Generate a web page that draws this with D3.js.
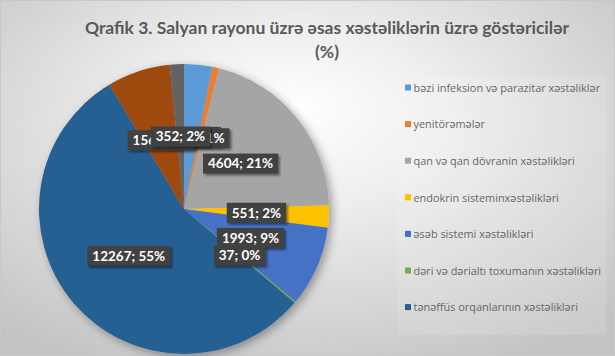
<!DOCTYPE html>
<html>
<head>
<meta charset="utf-8">
<script src="https://cdn.jsdelivr.net/npm/d3@7"></script>
<style>
html,body{margin:0;padding:0;background:#fff;}
svg{display:block;}
</style>
</head>
<body>
<svg id="chart" width="615" height="356"></svg>
<script>
const titleLines = ["Qrafik 3. Salyan rayonu üzrə əsas xəstəliklərin üzrə göstəricilər", "(%)"];
const categories = [
  "bəzi  infeksion  və parazitar xəstəliklər",
  "yenitörəmələr",
  "qan və qan dövranin xəstəlikləri",
  "endokrin sisteminxəstəlikləri",
  "əsəb sistemi xəstəlikləri",
  "dəri və dərialtı toxumanın xəstəlikləri",
  "tənəffüs orqanlarının xəstəlikləri",
  "həzm orqanlarının xəstəlikləri",
  "digər xəstəliklər"
];
const values = [700, 160, 4604, 551, 1993, 37, 12267, 1563, 352];
const colors = ["#5B9BD5","#ED7D31","#A5A5A5","#FFC000","#4472C4","#70AD47","#255E91","#9E480E","#636363"];
const legendShown = 7;

const W = 615, H = 356;
const svg = d3.select("#chart");
const defs = svg.append("defs");

const bg = defs.append("radialGradient").attr("id","bg")
  .attr("cx","48%").attr("cy","38%").attr("r","72%").attr("fx","48%").attr("fy","30%");
bg.append("stop").attr("offset","0%").attr("stop-color","#ffffff");
bg.append("stop").attr("offset","35%").attr("stop-color","#eeeeee");
bg.append("stop").attr("offset","100%").attr("stop-color","#c4c4c4");

const sh = defs.append("filter").attr("id","pieShadow").attr("x","-20%").attr("y","-20%").attr("width","140%").attr("height","140%");
sh.append("feDropShadow").attr("dx",3).attr("dy",3).attr("stdDeviation",5).attr("flood-color","#000").attr("flood-opacity",0.35);
const lsh = defs.append("filter").attr("id","lblShadow").attr("x","-20%").attr("y","-30%").attr("width","150%").attr("height","170%");
lsh.append("feDropShadow").attr("dx",2).attr("dy",2).attr("stdDeviation",1.2).attr("flood-color","#000").attr("flood-opacity",0.45);

const pat = defs.append("pattern").attr("id","dots").attr("width",3).attr("height",3).attr("patternUnits","userSpaceOnUse");
pat.append("rect").attr("width",3).attr("height",3).attr("fill","#404040");
pat.append("rect").attr("x",1).attr("y",1).attr("width",1).attr("height",1).attr("fill","#4a4a4a");

svg.append("rect").attr("width",W).attr("height",H).attr("fill","url(#bg)");
svg.append("rect").attr("x",0.5).attr("y",0.5).attr("width",W-1).attr("height",H-1)
  .attr("fill","none").attr("stroke","#c8c8c8");

// title
const title = svg.append("text").attr("text-anchor","middle")
  .attr("font-family","Lato, 'Open Sans', sans-serif").attr("font-weight","bold")
  .attr("font-size",17.5).attr("fill","#595959");
title.append("tspan").attr("x",327).attr("y",34).text(titleLines[0]);
title.append("tspan").attr("x",327).attr("y",58).text(titleLines[1]);

// pie
const cx = 184, cy = 209, r = 145;
const pie = d3.pie().sort(null).value(d => d)(values);
const arc = d3.arc().innerRadius(0).outerRadius(r);
const labelArc = d3.arc().innerRadius(r*0.5).outerRadius(r*0.5);
const total = d3.sum(values);

const g = svg.append("g").attr("transform",`translate(${cx},${cy})`);
g.append("g").attr("filter","url(#pieShadow)")
  .selectAll("path").data(pie).join("path")
  .attr("d",arc).attr("fill",(d,i)=>colors[i]);

// labels
const lg = g.append("g");
pie.forEach((d,i) => {
  const [lx,ly] = labelArc.centroid(d);
  const txt = `${values[i]}; ${Math.round(values[i]/total*100)}%`;
  const grp = lg.append("g").attr("transform",`translate(${lx},${ly})`);
  const rect = grp.append("rect").attr("fill","url(#dots)").attr("filter","url(#lblShadow)");
  const t = grp.append("text").attr("text-anchor","middle").attr("dy","0.36em")
    .attr("font-family","Lato, 'Open Sans', sans-serif").attr("font-weight","bold")
    .attr("font-size",13.5).attr("fill","#ffffff").text(txt);
  const w = t.node().getComputedTextLength();
  rect.attr("x",-w/2-5).attr("y",-10).attr("width",w+10).attr("height",20);
});

// legend
const legend = svg.append("g");
legend.append("rect").attr("x",397).attr("y",77).attr("width",209).attr("height",258)
  .attr("fill","#ffffff").attr("fill-opacity",0.12);
const ly0 = 88, ldy = 36.6;
categories.slice(0, legendShown).forEach((c,i) => {
  const y = ly0 + i*ldy;
  legend.append("rect").attr("x",405).attr("y",y-3.5).attr("width",6).attr("height",6).attr("fill",colors[i]);
  legend.append("text").attr("x",413.5).attr("y",y).attr("dy","0.35em")
    .attr("font-family","'Open Sans', Lato, sans-serif").attr("font-size",10.9)
    .attr("fill","#666666").text(c);
});
</script>
</body>
</html>
